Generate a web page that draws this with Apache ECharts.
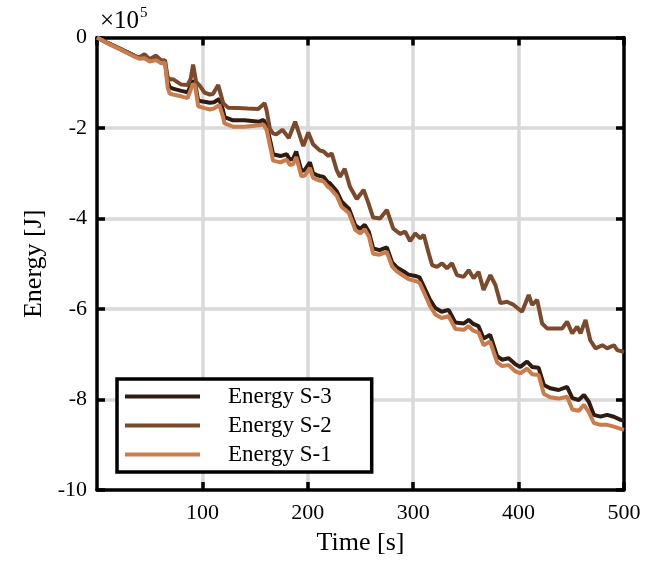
<!DOCTYPE html>
<html>
<head>
<meta charset="utf-8">
<script src="https://cdn.jsdelivr.net/npm/echarts@6/dist/echarts.min.js"></script>
<style>
html,body{margin:0;padding:0;background:#fff;}
#chart{width:658px;height:566px;}
</style>
</head>
<body>
<div id="chart"></div>
<script>
// Energy in units of 1e5 J, time in s
const seriesNames = ['Energy S-3', 'Energy S-2', 'Energy S-1'];
const xTicks = [100, 200, 300, 400, 500];
const yTicks = [0, -2, -4, -6, -8, -10];

const energyS3 = [[0,0],[5,-0.06],[10,-0.12],[20,-0.23],[30,-0.34],[36,-0.41],[40,-0.45],[45,-0.44],[50,-0.50],[56,-0.47],[61,-0.54],[64.5,-0.53],[67,-0.98],[69,-1.10],[72,-1.13],[80,-1.18],[86,-1.21],[91,-0.96],[93,-1.00],[96,-1.40],[102,-1.42],[107,-1.44],[111,-1.43],[116,-1.36],[119.5,-1.60],[121,-1.76],[129,-1.83],[140,-1.83],[154,-1.86],[158,-1.82],[161,-1.95],[165,-2.35],[167,-2.58],[174,-2.62],[180,-2.58],[183,-2.70],[186,-2.68],[189,-2.52],[194,-2.95],[197,-2.93],[202,-2.76],[205,-3.00],[208.5,-3.04],[211,-3.06],[215,-3.08],[219,-3.20],[221,-3.22],[227.5,-3.40],[232,-3.62],[237,-3.74],[239,-3.78],[243,-4.03],[245,-4.15],[249.6,-4.23],[254,-4.14],[258,-4.30],[262,-4.66],[268,-4.70],[275,-4.64],[280,-4.97],[284.5,-5.08],[291,-5.17],[295.5,-5.24],[302,-5.27],[306,-5.30],[310,-5.50],[316,-5.80],[321,-5.98],[327,-6.06],[333.6,-6.02],[340,-6.30],[348,-6.32],[352.6,-6.24],[357,-6.33],[362,-6.38],[366.8,-6.65],[373,-6.57],[379.6,-7.04],[384.3,-7.12],[390.6,-7.09],[397,-7.22],[401.7,-7.28],[408,-7.16],[412.8,-7.28],[419,-7.30],[424,-7.68],[430,-7.75],[438,-7.79],[446,-7.72],[451,-7.97],[457,-8.01],[462,-7.90],[466.6,-8.05],[471.4,-8.34],[477.7,-8.38],[484,-8.34],[490.4,-8.38],[496.8,-8.45],[500,-8.47]];

const energyS2 = [[0,0],[10,-0.12],[20,-0.23],[30,-0.34],[36,-0.41],[40,-0.44],[45,-0.37],[50,-0.48],[56,-0.40],[61,-0.51],[64.5,-0.50],[67,-0.88],[70,-0.93],[72,-0.92],[76,-0.98],[80,-1.04],[86,-1.05],[89,-0.90],[91.2,-0.60],[94,-0.98],[98,-1.08],[102,-1.22],[107,-1.26],[110,-1.25],[115,-1.05],[119.7,-1.45],[124.4,-1.55],[134,-1.56],[143,-1.57],[153,-1.58],[159,-1.45],[161,-1.62],[164,-2.02],[167,-2.12],[170,-2.14],[176,-2.04],[182,-2.22],[188,-1.86],[195.7,-2.40],[200.5,-2.10],[205,-2.36],[211.6,-2.50],[215,-2.52],[219.5,-2.62],[222.7,-2.56],[227.4,-2.93],[230.6,-3.08],[235,-2.90],[240,-3.30],[246.5,-3.57],[253,-3.37],[257.5,-3.66],[262,-3.98],[268.6,-4.00],[275,-3.81],[281,-4.22],[287.6,-4.34],[292.4,-4.29],[297,-4.50],[302,-4.33],[306.7,-4.44],[310,-4.36],[314.6,-4.76],[318,-5.03],[322.5,-5.07],[327.3,-4.99],[332,-5.10],[336.8,-4.99],[341.5,-5.25],[347.8,-5.29],[352.6,-5.14],[357.3,-5.32],[362,-5.18],[366.8,-5.58],[373.2,-5.25],[378,-5.47],[382.7,-5.87],[389,-5.84],[395.4,-5.91],[403.3,-6.06],[409.6,-5.69],[412.8,-5.91],[417.6,-5.80],[422.3,-6.32],[427,-6.43],[433.4,-6.43],[441.3,-6.43],[446,-6.28],[450.9,-6.54],[455.6,-6.39],[458.8,-6.54],[463.5,-6.24],[468,-6.69],[473,-6.87],[479.4,-6.80],[484,-6.87],[490.4,-6.80],[493.6,-6.91],[500,-6.95]];

const energyS1 = [[0,0],[5,-0.06],[10,-0.13],[20,-0.24],[30,-0.36],[36,-0.43],[40,-0.47],[45,-0.46],[50,-0.53],[56,-0.50],[61,-0.57],[64.5,-0.56],[67,-1.10],[69,-1.24],[72,-1.26],[80,-1.30],[86,-1.34],[91,-1.02],[93,-1.06],[96,-1.52],[102,-1.56],[107,-1.59],[111,-1.57],[116,-1.49],[119.5,-1.75],[121,-1.90],[129,-1.97],[140,-1.97],[154,-1.94],[158,-1.92],[161,-2.05],[165,-2.48],[167,-2.72],[174,-2.76],[180,-2.70],[183,-2.82],[186,-2.80],[189,-2.64],[194,-3.07],[197,-3.05],[202,-2.88],[205,-3.10],[208.5,-3.14],[211,-3.16],[215,-3.18],[219,-3.30],[221,-3.33],[227.5,-3.50],[232,-3.74],[237,-3.84],[239,-3.88],[243,-4.12],[245,-4.25],[249.6,-4.33],[254,-4.24],[258,-4.40],[262,-4.78],[268,-4.80],[275,-4.74],[280,-5.06],[284.5,-5.17],[291,-5.27],[295.5,-5.34],[302,-5.38],[306,-5.42],[310,-5.62],[316,-5.94],[321,-6.12],[327,-6.20],[333.6,-6.16],[340,-6.44],[348,-6.46],[352.6,-6.38],[357,-6.48],[362,-6.52],[366.8,-6.80],[373,-6.72],[379.6,-7.18],[384.3,-7.26],[390.6,-7.24],[397,-7.38],[401.7,-7.42],[408,-7.32],[412.8,-7.44],[419,-7.46],[424,-7.88],[430,-7.95],[438,-7.98],[446,-7.94],[451,-8.22],[457,-8.25],[462,-8.12],[466.6,-8.28],[471.4,-8.52],[477.7,-8.56],[484,-8.56],[490.4,-8.60],[496.8,-8.65],[500,-8.67]];

const colors = ['#2e1c12', '#7b4a2d', '#c97c4c'];
const FONT = 'Liberation Serif';

const chart = echarts.init(document.getElementById('chart'), null, {renderer: 'canvas'});

const gridRect = {left: 97, right: 34, top: 37.5, bottom: 76};
const xRange = {min: 0, max: xTicks[xTicks.length - 1], interval: xTicks[1] - xTicks[0]};
const yRange = {min: yTicks[yTicks.length - 1], max: yTicks[0], interval: yTicks[0] - yTicks[1]};

const frameLine = {show: true, onZero: false, lineStyle: {color: '#000', width: 3.5}};
const frameTick = {show: true, inside: true, length: 8, lineStyle: {color: '#000', width: 3.5}};
const gridSplit = {show: true, showMinLine: false, showMaxLine: false, lineStyle: {color: '#d9d9d9', width: 3.5}};

chart.setOption({
  animation: false,
  backgroundColor: '#fff',
  grid: [
    Object.assign({containLabel: false}, gridRect),
    Object.assign({containLabel: false}, gridRect)
  ],
  xAxis: [
    Object.assign({type: 'value', gridIndex: 0, position: 'bottom', z: 0,
      axisLine: {show: false}, axisTick: {show: false}, axisLabel: {show: false},
      splitLine: gridSplit}, xRange),
    Object.assign({type: 'value', gridIndex: 1, position: 'bottom', z: 1,
      axisLine: frameLine, axisTick: frameTick,
      axisLabel: {show: true, showMinLabel: false, margin: 12, color: '#000', fontFamily: FONT, fontSize: 22},
      splitLine: {show: false},
      name: 'Time [s]', nameLocation: 'middle', nameGap: 40,
      nameTextStyle: {color: '#000', fontFamily: FONT, fontSize: 26}}, xRange),
    Object.assign({type: 'value', gridIndex: 1, position: 'top', z: 1,
      axisLine: frameLine, axisTick: frameTick, axisLabel: {show: false},
      splitLine: {show: false}}, xRange)
  ],
  yAxis: [
    Object.assign({type: 'value', gridIndex: 0, position: 'left', z: 0,
      axisLine: {show: false}, axisTick: {show: false}, axisLabel: {show: false},
      splitLine: gridSplit}, yRange),
    Object.assign({type: 'value', gridIndex: 1, position: 'left', z: 1,
      axisLine: frameLine, axisTick: frameTick,
      axisLabel: {show: true, margin: 10, color: '#000', fontFamily: FONT, fontSize: 22},
      splitLine: {show: false},
      name: 'Energy [J]', nameLocation: 'middle', nameGap: 50,
      nameTextStyle: {color: '#000', fontFamily: FONT, fontSize: 26}}, yRange),
    Object.assign({type: 'value', gridIndex: 1, position: 'right', z: 1,
      axisLine: frameLine, axisTick: frameTick, axisLabel: {show: false},
      splitLine: {show: false}}, yRange)
  ],
  legend: {
    orient: 'vertical',
    left: 117, top: 379,
    backgroundColor: '#fff',
    borderColor: '#000', borderWidth: 3.5, borderRadius: 0,
    padding: [6, 40, 6, 8],
    itemWidth: 75, itemHeight: 4, itemGap: 6,
    icon: 'rect',
    data: seriesNames,
    textStyle: {color: '#000', fontFamily: FONT, fontSize: 23, lineHeight: 22, padding: [0, 0, 0, 23]}
  },
  graphic: [
    {
      type: 'text', left: 100, top: 9, z: 10,
      style: {text: '×10', fontSize: 25, fontFamily: FONT, fill: '#000'}
    },
    {
      type: 'text', left: 140, top: 6, z: 10,
      style: {text: '5', fontSize: 15, fontFamily: FONT, fill: '#000'}
    }
  ],
  series: [
    {name: seriesNames[0], type: 'line', xAxisIndex: 1, yAxisIndex: 1, data: energyS3, showSymbol: false, z: 2,
     color: colors[0], lineStyle: {color: colors[0], width: 4}},
    {name: seriesNames[1], type: 'line', xAxisIndex: 1, yAxisIndex: 1, data: energyS2, showSymbol: false, z: 3,
     color: colors[1], lineStyle: {color: colors[1], width: 4}},
    {name: seriesNames[2], type: 'line', xAxisIndex: 1, yAxisIndex: 1, data: energyS1, showSymbol: false, z: 4,
     color: colors[2], lineStyle: {color: colors[2], width: 4}}
  ]
});
</script>
</body>
</html>
